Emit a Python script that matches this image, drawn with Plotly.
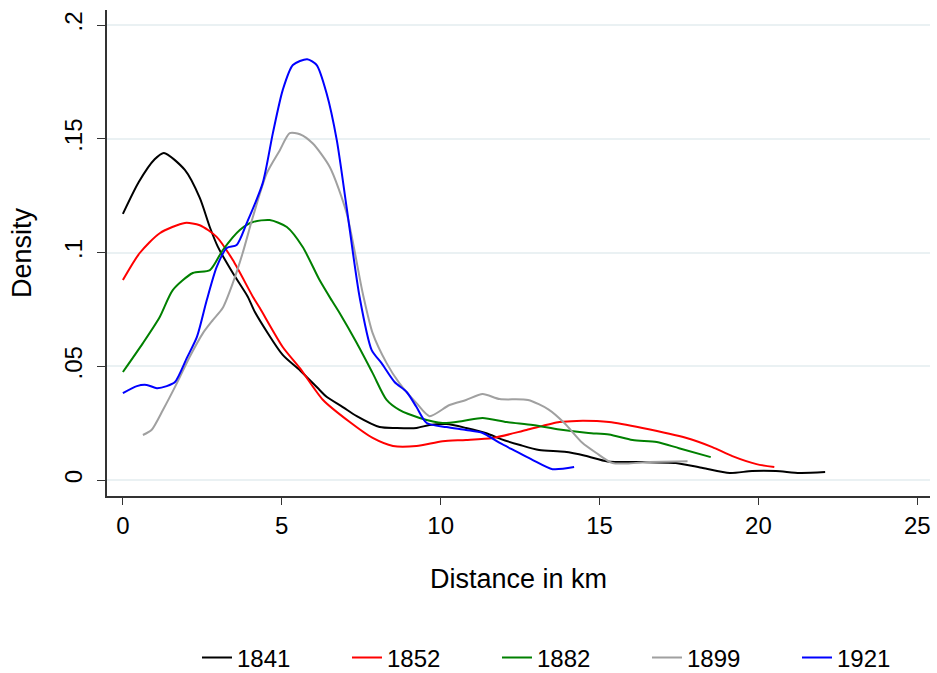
import plotly.graph_objects as go

# ---- data ----
years = ["1841", "1852", "1882", "1899", "1921"]
colors = ["#000000", "#FF0000", "#008000", "#A0A0A0", "#0000FF"]

x_1841 = [0.0, 0.5, 1.0, 1.29, 1.95, 2.42, 2.74, 2.99, 3.46, 3.93, 4.15, 5.03, 5.57, 6.19, 6.41, 6.92, 7.36, 8.08,
          8.6, 9.24, 9.65, 10.18, 10.8, 11.44, 11.9, 12.5, 13.1, 13.9, 14.55, 15.25, 16.0, 16.35, 17.4, 18.25,
          19.1, 19.8, 20.55, 21.3, 22.1]
y_1841 = [0.117, 0.131, 0.141, 0.1438, 0.1363, 0.124, 0.111, 0.1025, 0.091, 0.0806, 0.074, 0.055, 0.0483, 0.0396,
          0.0366, 0.0321, 0.0281, 0.0233, 0.0229, 0.0229, 0.0242, 0.0246, 0.0229, 0.0206, 0.018, 0.0154, 0.0132,
          0.0124, 0.0107, 0.0082, 0.0079, 0.0079, 0.0075, 0.0053, 0.0031, 0.004, 0.004, 0.0031, 0.0035]

x_1852 = [0.0, 0.53, 1.16, 1.95, 2.42, 2.95, 3.46, 4.09, 4.31, 5.03, 5.57, 6.3, 7.14, 7.86, 8.5, 9.24, 10.06, 10.8,
          11.64, 12.7, 13.74, 14.28, 15.3, 16.35, 17.74, 18.55, 19.18, 19.94, 20.5]
y_1852 = [0.0879, 0.0998, 0.1085, 0.113, 0.112, 0.1069, 0.0967, 0.0806, 0.0756, 0.0585, 0.0492, 0.0352, 0.0255,
          0.0185, 0.015, 0.015, 0.0171, 0.0176, 0.0185, 0.022, 0.0255, 0.026, 0.0255, 0.0229, 0.0185, 0.0145,
          0.0105, 0.007, 0.0057]

x_1882 = [0.0, 0.63, 1.16, 1.57, 2.2, 2.74, 3.14, 3.68, 4.09, 4.62, 5.16, 5.66, 6.19, 6.57, 6.82, 7.36, 7.86, 8.3,
          8.7, 9.34, 10.06, 10.7, 11.32, 12.08, 12.9, 13.74, 14.65, 15.3, 16.04, 16.8, 17.5, 18.5]
y_1882 = [0.0475, 0.0602, 0.0717, 0.0835, 0.091, 0.0923, 0.101, 0.1099, 0.1134, 0.1143, 0.1112, 0.1024, 0.0879,
          0.079, 0.0734, 0.0602, 0.047, 0.0352, 0.0308, 0.0273, 0.0251, 0.026, 0.0273, 0.0255, 0.0242, 0.0222,
          0.0207, 0.02, 0.0176, 0.0167, 0.014, 0.0101]

x_1899 = [0.63, 0.9, 1.26, 1.7, 2.1, 2.52, 2.83, 3.14, 3.46, 3.77, 4.09, 4.53, 4.94, 5.25, 5.57, 5.97, 6.51, 7.04,
          7.55, 7.86, 8.3, 8.7, 9.24, 9.65, 10.28, 10.8, 11.32, 11.86, 12.75, 13.4, 13.9, 14.45, 14.9, 15.41,
          16.57, 17.77]
y_1899 = [0.0198, 0.022, 0.0308, 0.0426, 0.0541, 0.0646, 0.0703, 0.0756, 0.0866, 0.0998, 0.1156, 0.1349, 0.145,
          0.1525, 0.152, 0.148, 0.1376, 0.1174, 0.082, 0.0646, 0.0514, 0.0426, 0.0338, 0.0281, 0.033, 0.0352,
          0.0378, 0.0356, 0.0352, 0.031, 0.025, 0.0165, 0.0119, 0.0075, 0.0079, 0.0083]

x_1921 = [0.0, 0.44, 0.75, 1.07, 1.38, 1.64, 2.01, 2.33, 2.64, 2.95, 3.27, 3.58, 3.9, 4.4, 4.72, 5.03, 5.35, 5.8,
          6.1, 6.41, 6.73, 7.04, 7.45, 7.83, 8.14, 8.55, 8.93, 9.24, 9.56, 10.18, 10.8, 11.32, 11.86, 12.39,
          12.9, 13.52, 14.2]
y_1921 = [0.0382, 0.0413, 0.0418, 0.0404, 0.0413, 0.0431, 0.0536, 0.0629, 0.0791, 0.0936, 0.102, 0.1033, 0.113,
          0.1305, 0.1525, 0.1714, 0.1824, 0.185, 0.1824, 0.17, 0.1495, 0.12, 0.0804, 0.0571, 0.0514, 0.0431,
          0.0387, 0.0321, 0.0251, 0.0233, 0.022, 0.0207, 0.0163, 0.0125, 0.0088, 0.0048, 0.0057]

xs = [x_1841, x_1852, x_1882, x_1899, x_1921]
ys = [y_1841, y_1852, y_1882, y_1899, y_1921]

x_ticks = [0, 5, 10, 15, 20, 25]
y_ticks = [0, 0.05, 0.1, 0.15, 0.2]
y_tick_labels = ["0", ".05", ".1", ".15", ".2"]

FONT = "Liberation Sans, Arial, Helvetica, sans-serif"

fig = go.Figure()
for name, c, x, y in zip(years, colors, xs, ys):
    fig.add_trace(go.Scatter(x=x, y=y, name=name, mode="lines",
                             line=dict(color=c, width=2, shape="spline", smoothing=0.7)))

fig.update_layout(
    width=937, height=673,
    margin=dict(l=107, r=7, t=10, b=177, autoexpand=False),
    paper_bgcolor="white", plot_bgcolor="white",
    font=dict(family=FONT, size=24, color="black"),
    showlegend=True,
    legend=dict(orientation="h", x=0.565, xanchor="center", y=-0.333, yanchor="middle",
                entrywidth=105, entrywidthmode="pixels",
                font=dict(family=FONT, size=24, color="black")),
)
fig.update_xaxes(range=[-0.5, 25.4], tickvals=x_ticks, ticks="outside", ticklen=7, tickwidth=1.2,
                 tickcolor="#333333", showline=True, linecolor="#333333", linewidth=1.6,
                 showgrid=False, zeroline=False, tickfont=dict(size=24),
                 title=dict(text="Distance in km", font=dict(size=27), standoff=32))
fig.update_yaxes(range=[-0.007, 0.2066], tickvals=y_ticks, ticktext=y_tick_labels, tickangle=-90,
                 ticks="outside", ticklen=8, tickwidth=1.2, tickcolor="#333333",
                 showline=True, linecolor="#333333", linewidth=1.6, ticklabelstandoff=6,
                 showgrid=True, gridcolor="#EAF1F3", gridwidth=1.5, zeroline=False,
                 tickfont=dict(size=24),
                 title=dict(text="Density", font=dict(size=27), standoff=20))

fig.write_html("out.html")
